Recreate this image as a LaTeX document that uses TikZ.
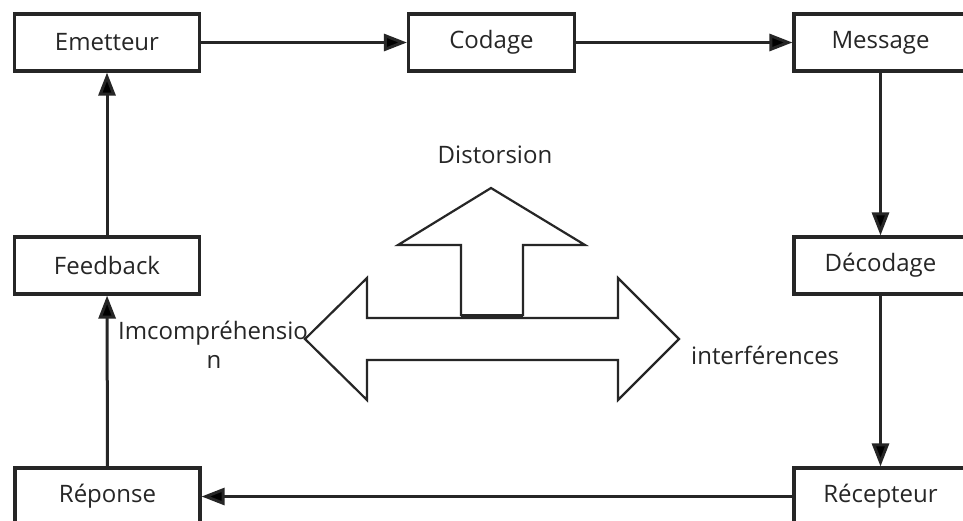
\documentclass[tikz,border=0pt]{standalone}
\usepackage{fontspec}
\setmainfont{Open Sans}
\usetikzlibrary{arrows.meta, positioning}

\begin{document}
\begin{tikzpicture}[x=1pt,y=1pt,on grid,>={Triangle[length=23pt,width=17pt]},
      every node/.style={font=\fontsize{24}{28}\selectfont,text=black!85},
      etape/.style={draw=black!85,line width=3.2pt,minimum height=57pt,inner sep=0pt},
      fleche/.style={->,draw=black!85,line width=3pt},
      forme/.style={draw=black!85,line width=2.2pt,line join=miter}]
      \useasboundingbox[fill=white] (0,0) rectangle (963,-520);
      % les etapes
      \node[etape, minimum width=185pt] (emet) at (107,-42.5) {Emetteur};
      \node[etape, minimum width=166pt] (cod) [right=384.5pt of emet] {Codage};
      \node[etape, minimum width=173pt] (mess) [right=389pt of cod] {Message};
      \node[etape, minimum width=173pt] (decod) [below=223pt of mess] {Décodage};
      \node[etape, minimum width=173pt] (recep) [below=231pt of decod] {Récepteur};
      \node[etape, minimum width=185pt] (rep) [left=773pt of recep] {Réponse};
      \node[etape, minimum width=185pt] (feed) [below=223pt of emet] {Feedback};
      \path[fleche]
      (emet) edge (cod)
      (cod) edge (mess)
      (mess) edge (decod)
      (decod) edge (recep)
      (recep) edge (rep)
      (rep) edge (feed)
      (feed) edge (emet);
      % les grandes fleches
      \draw[forme] (461,-316) -- (461,-245) -- (398,-245) -- (491,-188)
        -- (585,-245) -- (523,-245) -- (523,-316);
      \draw[forme] (367,-318) -- (367,-278) -- (305,-339) -- (367,-400) -- (367,-360)
        -- (618,-360) -- (618,-400) -- (679,-339) -- (618,-278) -- (618,-318) -- cycle;
      \draw[draw=black!85,line width=4pt] (461,-316) -- (523,-316);
      \node (dist) at (495,-155) {Distorsion};
      \node[anchor=west,inner sep=0pt] (incomp) at (118,-333) {Imcompréhensio};
      \node (incompn) at (214,-362) {n};
      \node[anchor=west,inner sep=0pt] (inter) at (691,-355) {interférences};
    \end{tikzpicture}
\end{document}
